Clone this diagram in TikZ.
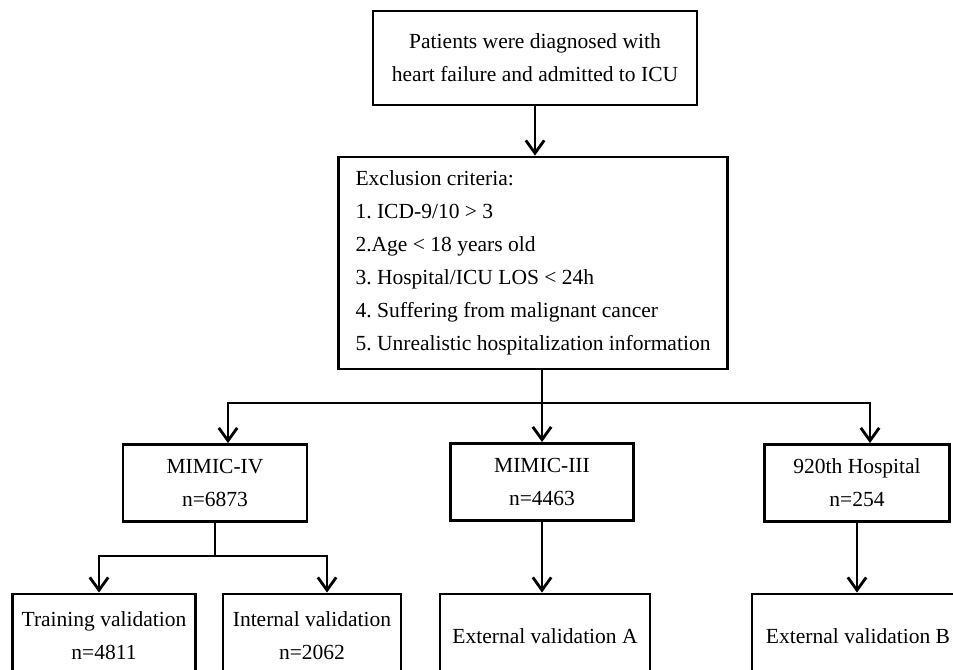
\documentclass[tikz,border=0pt]{standalone}
\usepackage{fontspec}
\setmainfont{Liberation Serif}
\usetikzlibrary{arrows.meta}
\begin{document}
\begin{tikzpicture}[x=0.025cm, y=-0.025cm,
    box/.style={draw, line width=2pt, align=center, inner sep=2pt,
        font=\fontsize{15.3}{23.5}\selectfont\frenchspacing},
    arr/.style={line width=2pt, -{Straight Barb[length=3.2mm, width=4.6mm, line width=2pt]}}]
    \useasboundingbox (0,0) rectangle (953,670);
    \clip (0,0) rectangle (953,670);
    \node[box, minimum width=8.1cm, minimum height=2.35cm] (top) at (535, 58) {Patients were diagnosed with\\heart failure and admitted to ICU};
    \node[box, align=left, minimum width=9.725cm, minimum height=5.3cm] (ex) at (533, 263) {Exclusion criteria:\\1. ICD-9/10 > 3\\2.Age < 18 years old\\3. Hospital/ICU LOS < 24h\\4. Suffering from malignant cancer\\5. Unrealistic hospitalization information};
    \node[box, minimum width=4.6cm, minimum height=1.925cm] (m4) at (215, 483) {MIMIC-IV\\n=6873};
    \node[box, minimum width=4.575cm, minimum height=1.925cm] (m3) at (542, 482) {MIMIC-III\\n=4463};
    \node[box, minimum width=4.625cm, minimum height=1.925cm] (hp) at (857, 483) {920th Hospital\\n=254};
    \node[box, minimum width=4.575cm, minimum height=2.1cm] (tr) at (104, 636) {Training validation\\n=4811};
    \node[box, minimum width=4.45cm, minimum height=2.1cm] (in) at (312, 636) {Internal validation\\n=2062};
    \node[box, minimum width=5.25cm, minimum height=2.1cm] (ea) at (545, 636) {External validation A};
    \node[box, minimum width=5.3cm, minimum height=2.1cm] (eb) at (858, 636) {External validation B};
    \coordinate (sL) at (228, 403);
    \coordinate (sR) at (870, 403);
    \coordinate (tL) at (99, 556);
    \coordinate (tR) at (327, 556);
    \draw[arr] (top.south) -- (top.south |- ex.north);
    \draw[arr] (m3.north |- ex.south) -- (m3.north);
    \draw[arr] (m3.north |- sL) -- (sL) -- (sL |- m4.north);
    \draw[arr] (m3.north |- sR) -- (sR) -- (sR |- hp.north);
    \draw[line width=2pt] (m4.south) -- (m4.south |- tL);
    \draw[arr] (m4.south |- tL) -- (tL) -- (tL |- tr.north);
    \draw[arr] (m4.south |- tR) -- (tR) -- (tR |- in.north);
    \draw[arr] (m3.south) -- (m3.south |- ea.north);
    \draw[arr] (hp.south) -- (hp.south |- eb.north);
\end{tikzpicture}
\end{document}
